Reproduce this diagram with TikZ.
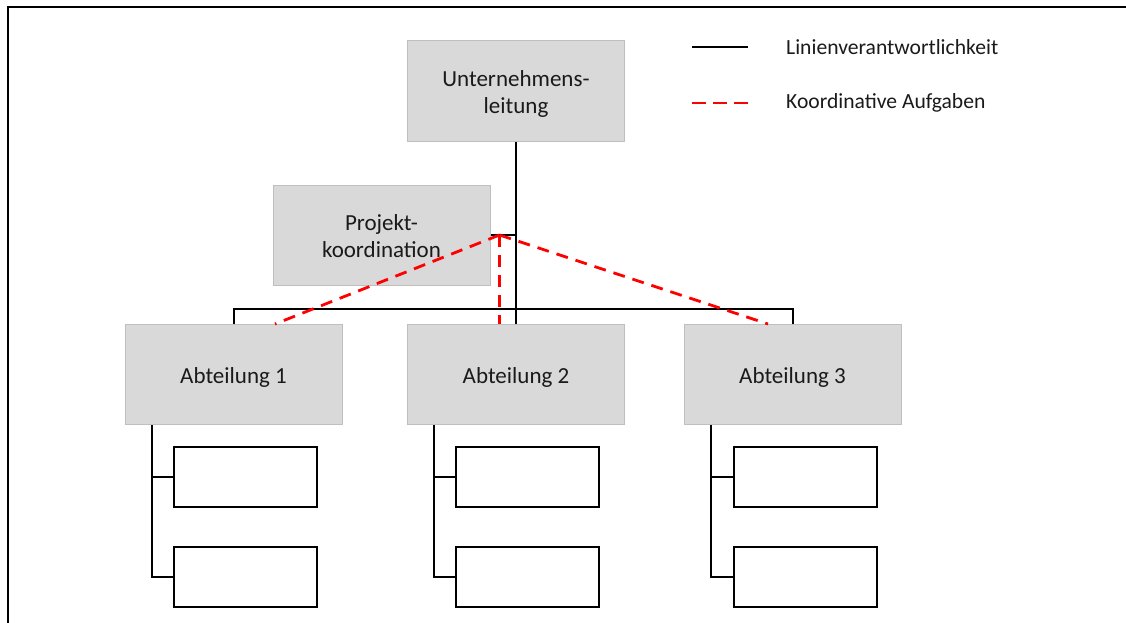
\documentclass[tikz,border=0pt]{standalone}
\usepackage{fontspec}
\setmainfont{Carlito}
\usetikzlibrary{calc}
\definecolor{boxfill}{HTML}{D9D9D9}
\definecolor{boxline}{HTML}{BFBFBF}
\definecolor{coordred}{HTML}{FF0000}
\definecolor{textcol}{HTML}{1A1A1A}
% box caption, set slightly below the geometric centre of its box
\newcommand\unitcaption[1]{\raisebox{-10pt}[0pt][0pt]{\begin{tabular}{@{}c@{}}#1\end{tabular}}}
\tikzset{
  unit/.style={draw=boxline, line width=1pt, fill=boxfill, minimum width=217pt,
    minimum height=100pt, inner sep=0pt, text=textcol,
    font=\fontsize{23}{27}\selectfont},
  subunit/.style={draw=black, line width=2pt, fill=white, minimum width=143pt,
    minimum height=60pt, inner sep=0pt},
  lineresp/.style={draw=black, line width=2pt},
  coordtask/.style={draw=coordred, line width=2.8pt, dash pattern=on 12pt off 8pt},
  legendtext/.style={anchor=west, inner sep=0pt, text=textcol,
    font=\fontsize{21.6}{26}\selectfont}
}
\begin{document}
\begin{tikzpicture}[x=1pt,y=-1pt]
  \useasboundingbox (0,0) rectangle (1126,623);
  % frame: top and left edges
  \draw[line width=2.2pt] (8,623) -- (8,7) -- (1126,7);

  % organisational units
  \node[unit] (top)  at (516,91)      {\unitcaption{Unternehmens-\\leitung}};
  \node[unit] (proj) at (381.5,235)   {\unitcaption{Projekt-\\koordination}};
  \node[unit] (a1)   at (233.5,374.5) {\unitcaption{Abteilung 1}};
  \node[unit] (a2)   at (516,374.5)   {\unitcaption{Abteilung 2}};
  \node[unit] (a3)   at (792.5,374.5) {\unitcaption{Abteilung 3}};

  % sub-units
  \node[subunit] (a1s1) at (245.5,477) {};
  \node[subunit] (a1s2) at (245.5,577) {};
  \node[subunit] (a2s1) at (527.5,477) {};
  \node[subunit] (a2s2) at (527.5,577) {};
  \node[subunit] (a3s1) at (805.5,477) {};
  \node[subunit] (a3s2) at (805.5,577) {};

  % line responsibility
  \draw[lineresp] (top.south) -- (a2.north);
  \draw[lineresp] (a1.north) -- ++(0,-15) -| (a3.north);
  \draw[lineresp] (proj.east) -- (proj.east -| top.south);
  \foreach \d in {a1,a2,a3}{
    \coordinate (\d t) at ($(\d.south west)+(27,0)$);
    \draw[lineresp] (\d t) |- (\d s2.west);
    \draw[lineresp] (\d s1.west) -- (\d s1.west -| \d t);
  }

  % coordination tasks
  \coordinate (apex) at ($(proj.east)+(9,0)$);
  \coordinate (e1) at ($(a1.north)+(41.5,0)$);
  \coordinate (e2) at (apex |- a2.north);
  \coordinate (e3) at ($(a3.north)+(-24.5,0)$);
  \draw[coordtask] (apex) -- (e1);
  \draw[coordtask] (apex) -- (e2);
  \draw[coordtask] (apex) -- (e3);

  % legend
  \coordinate (l1a) at (692,47);  \coordinate (l1b) at (748,47);
  \coordinate (l2a) at (692,103); \coordinate (l2b) at (748,103);
  \draw[lineresp, line width=2.6pt] (l1a) -- (l1b);
  \draw[coordtask, dash pattern=on 14pt off 7pt] (l2a) -- (l2b);
  \node[legendtext] (lt1) at (786,47)  {Linienverantwortlichkeit};
  \node[legendtext] (lt2) at (786,103) {Koordinative Aufgaben};
\end{tikzpicture}
\end{document}
